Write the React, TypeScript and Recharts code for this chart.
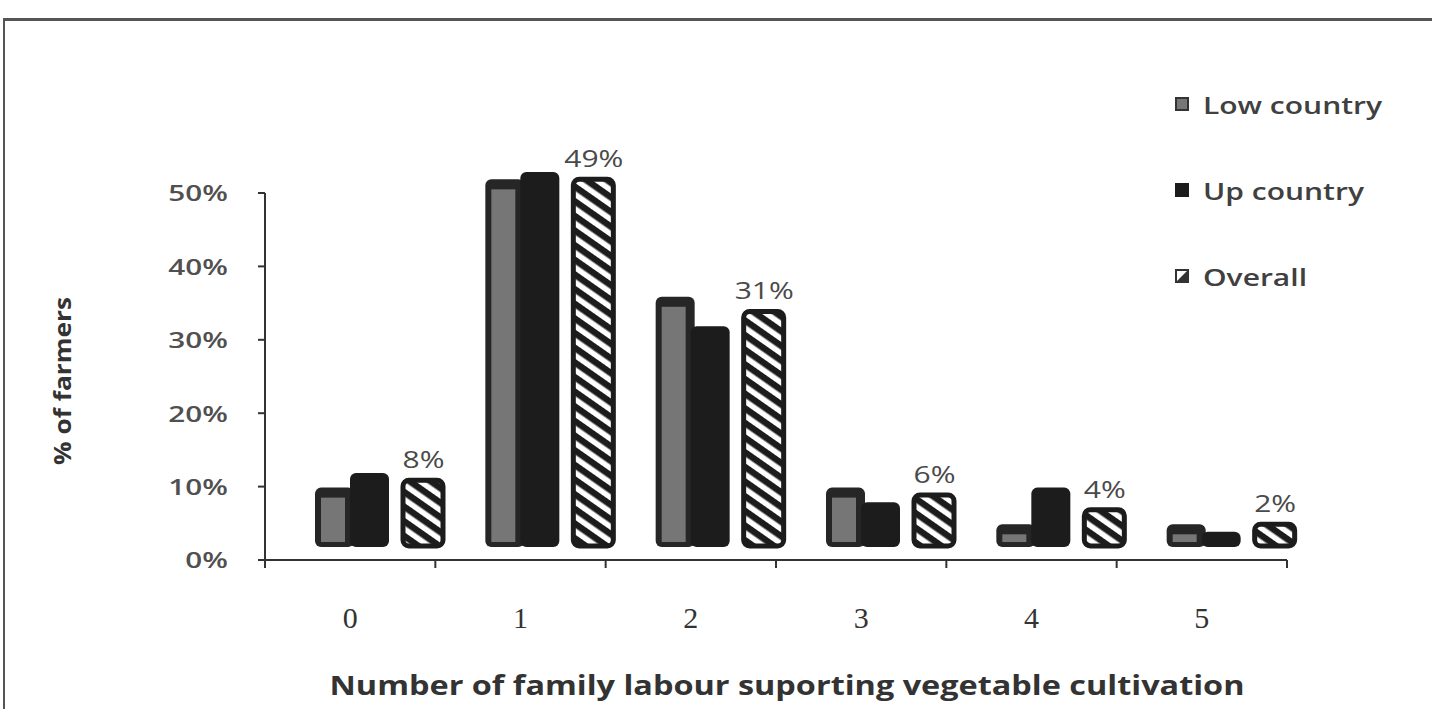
import { BarChart, Bar, XAxis, YAxis, Legend, LabelList } from 'recharts';

const categories = ['0', '1', '2', '3', '4', '5'];
const lowCountry = [7, 49, 33, 7, 2, 2];
const upCountry = [9, 50, 29, 5, 7, 1];
const overall = [8, 49, 31, 6, 4, 2];
const yTicks = [0, 10, 20, 30, 40, 50];

const data = categories.map((n, i) => ({
  n,
  low: lowCountry[i],
  up: upCountry[i],
  overall: overall[i],
}));

const SANS = '"Open Sans", sans-serif';
const INK = '#1c1c1c';
// fake 3d: bars sit on a raised floor and get a cap on top
const LIFT = 13;
const CAP = 8;

function LowShape(props: any) {
  const { x, y, width, height } = props;
  const bx = x + 23;
  const top = y - LIFT - CAP;
  const h = height + CAP;
  return (
    <g>
      <rect x={bx} y={top} width={width} height={h} rx={6} fill="#262626" />
      <rect x={bx + 6} y={top + 10} width={24} height={Math.max(h - 15, 0)} fill="#767676" />
    </g>
  );
}

function UpShape(props: any) {
  const { x, y, width, height } = props;
  return (
    <rect x={x + 19} y={y - LIFT - CAP} width={width} height={height + CAP} rx={6} fill={INK} />
  );
}

function OverallShape(props: any) {
  const { x, y, width, height } = props;
  return (
    <rect
      x={x + 33}
      y={y - LIFT - CAP}
      width={width + 1}
      height={height + CAP - 1}
      rx={6}
      fill="url(#hatch)"
      stroke={INK}
      strokeWidth={5}
    />
  );
}

// the scanned labels are wide, so stretch them sideways
function OverallLabel(props: any) {
  const { x, y, width, value } = props;
  const cx = x + width / 2 + 34;
  const cy = y - LIFT - CAP - 12;
  return (
    <text
      transform={`translate(${cx} ${cy}) scale(1.25 1)`}
      textAnchor="middle"
      fontFamily={SANS}
      fontSize={24}
      fill="#4a4a4a"
    >
      {value}%
    </text>
  );
}

function YTick(props: any) {
  const { x, y, payload } = props;
  return (
    <text
      transform={`translate(${x} ${y}) scale(1.35 1)`}
      textAnchor="end"
      dy="0.38em"
      fontFamily={SANS}
      fontSize={22}
      fontWeight={600}
      fill="#505050"
    >
      {payload.value}%
    </text>
  );
}

function XTick(props: any) {
  const { x, y, payload, index } = props;
  const half = payload?.offset || 85;
  const ay = y - 8;
  return (
    <g>
      <line x1={x - half} y1={ay} x2={x - half} y2={ay + 8} stroke="#333" strokeWidth={2} />
      {index === categories.length - 1 && (
        <line x1={x + half} y1={ay} x2={x + half} y2={ay + 8} stroke="#333" strokeWidth={2} />
      )}
      <text
        x={x}
        y={ay + 68}
        textAnchor="middle"
        fontFamily='"Liberation Serif", serif'
        fontSize={30}
        fill="#333"
      >
        {payload.value}
      </text>
    </g>
  );
}

function Swatch({ kind }: { kind: string }) {
  const base = { width: 14, height: 14, display: 'inline-block' };
  if (kind === 'low')
    return <svg style={base}><rect x={1} y={1} width={12} height={12} fill="#777" stroke="#333" strokeWidth={2} /></svg>;
  if (kind === 'up')
    return <svg style={base}><rect x={0} y={0} width={14} height={14} fill={INK} /></svg>;
  return (
    <svg style={base}>
      <rect x={1} y={1} width={12} height={12} fill="#fff" stroke="#333" strokeWidth={2} />
      <path d="M2 12 L12 2 L12 12 Z" fill="#333" />
    </svg>
  );
}

const legendItems = [
  { kind: 'low', label: 'Low country' },
  { kind: 'up', label: 'Up country' },
  { kind: 'overall', label: 'Overall' },
];

function LegendBox() {
  return (
    <div style={{ fontFamily: SANS }}>
      {legendItems.map((it) => (
        <div
          key={it.kind}
          style={{ display: 'flex', alignItems: 'center', height: 86, fontSize: 24, color: '#404040' }}
        >
          <Swatch kind={it.kind} />
          <span
            style={{
              marginLeft: 14,
              fontWeight: 600,
              display: 'inline-block',
              transform: 'scaleX(1.25)',
              transformOrigin: 'left center',
              whiteSpace: 'nowrap',
            }}
          >
            {it.label}
          </span>
        </div>
      ))}
    </div>
  );
}

export default function App() {
  return (
    <div style={{ position: 'absolute', left: 0, top: 0, width: 1432, height: 709, background: '#fff', overflow: 'hidden' }}>
      <div
        style={{
          position: 'absolute',
          left: 3,
          top: 18,
          width: 1440,
          height: 700,
          borderLeft: '2px solid #555',
          borderTop: '3px solid #555',
        }}
      />
      <svg width={0} height={0} style={{ position: 'absolute' }}>
        <defs>
          <pattern id="hatch" patternUnits="userSpaceOnUse" width={12} height={12} patternTransform="rotate(35)">
            <rect width={12} height={12} fill="#fff" />
            <rect width={12} height={6.5} fill={INK} />
          </pattern>
        </defs>
      </svg>
      <BarChart
        width={1432}
        height={709}
        data={data}
        margin={{ top: 193, right: 145, bottom: 0, left: 20 }}
        barCategoryGap={27}
        barGap={0}
        style={{ position: 'absolute', left: 0, top: 0 }}
      >
        <XAxis
          dataKey="n"
          height={149}
          axisLine={{ stroke: '#333', strokeWidth: 2 }}
          tickLine={false}
          tickSize={8}
          tickMargin={0}
          tick={<XTick />}
          interval={0}
          label={(p: any) => {
            const vb = p.viewBox || { x: 265, y: 560, width: 1022, height: 149 };
            return (
              <text
                x={vb.x + vb.width / 2 + 11}
                y={vb.y + vb.height - 14}
                textAnchor="middle"
                textLength={915}
                lengthAdjust="spacingAndGlyphs"
                fontFamily={SANS}
                fontSize={26}
                fontWeight={700}
                fill="#333"
              >
                Number of  family labour suporting vegetable cultivation
              </text>
            );
          }}
        />
        <YAxis
          width={245}
          domain={[0, 50]}
          ticks={yTicks}
          interval={0}
          axisLine={{ stroke: '#333', strokeWidth: 2 }}
          tickLine={{ stroke: '#333', strokeWidth: 2 }}
          tickSize={7}
          tickMargin={30}
          tick={<YTick />}
          label={() => {
            const cx = 62;
            const cy = 381;
            return (
              <text
                x={cx}
                y={cy}
                transform={`rotate(-90, ${cx}, ${cy})`}
                textAnchor="middle"
                dominantBaseline="central"
                textLength={168}
                lengthAdjust="spacingAndGlyphs"
                fontFamily={SANS}
                fontSize={23}
                fontWeight={700}
                fill="#333"
              >
                % of farmers
              </text>
            );
          }}
        />
        <Legend
          layout="vertical"
          align="center"
          verticalAlign="middle"
          content={<LegendBox />}
          wrapperStyle={{ left: 1175, top: 61, width: 250 }}
        />
        <Bar dataKey="low" name="Low country" shape={<LowShape />} isAnimationActive={false} />
        <Bar dataKey="up" name="Up country" shape={<UpShape />} isAnimationActive={false} />
        <Bar dataKey="overall" name="Overall" shape={<OverallShape />} isAnimationActive={false}>
          <LabelList dataKey="overall" content={<OverallLabel />} />
        </Bar>
      </BarChart>
    </div>
  );
}
